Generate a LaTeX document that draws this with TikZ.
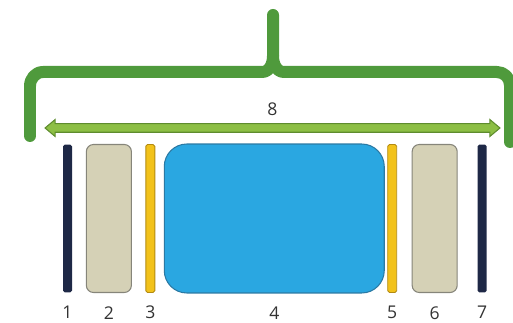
\documentclass[tikz,border=0pt]{standalone}
\usepackage{fontspec}
\setmainfont{Open Sans}
\usetikzlibrary{positioning}
\usetikzlibrary{shapes.arrows}

\definecolor{bracegreen}{HTML}{4F9A3C}
\definecolor{spanfill}{HTML}{8DBF45}
\definecolor{spanline}{HTML}{5E8C2E}
\definecolor{navy}{HTML}{1E2846}
\definecolor{sand}{HTML}{D5D1B6}
\definecolor{sandline}{HTML}{86857A}
\definecolor{amber}{HTML}{F2C21A}
\definecolor{amberline}{HTML}{B38B12}
\definecolor{pool}{HTML}{2AA7E1}
\definecolor{poolline}{HTML}{2B79A3}
\definecolor{digit}{HTML}{333333}

\begin{document}
\begin{tikzpicture}[
    x=0.02cm, y=-0.02cm,
    thin bar/.style={rectangle, rounded corners=1pt, inner sep=0pt, minimum width=0.18cm, minimum height=2.96cm},
    slab/.style={rectangle, draw=sandline, fill=sand, line width=0.6pt, rounded corners=0.14cm, inner sep=0pt, minimum width=0.9cm, minimum height=2.96cm},
    num/.style={inner sep=0pt, text=digit, font=\normalsize},
  ]
  \useasboundingbox (0,0) rectangle (513,323);

  % brace over the whole section
  \coordinate (BL) at (30,136);
  \coordinate (BR) at (510,142);
  \coordinate (BT) at (273,15);
  \draw [bracegreen, line width=0.24cm, line cap=round, line join=round]
    (BL) -- (30,86) to[out=90,in=180] (43,72) -- (262,72) to[out=0,in=-90] (273,56) -- (BT);
  \draw [bracegreen, line width=0.24cm, line cap=round, line join=round]
    (273,56) to[out=-90,in=180] (284,72) -- (497,72) to[out=0,in=90] (510,85) -- (BR);

  % total span
  \node [double arrow, draw=spanline, fill=spanfill, line width=0.6pt, inner sep=0.075cm, double arrow head extend=0.085cm, double arrow tip angle=80, minimum height=9.1cm] (span) at (272.5,128) {};
  \node [num, above=0.14cm of span] (n8) {8};

  % layers
  \node [thin bar, fill=navy] (b1) at (67.5,218.5) {};
  \node [slab, right=0.27cm of b1] (b2) {};
  \node [thin bar, draw=amberline, fill=amber, line width=0.5pt, right=0.27cm of b2] (b3) {};
  \node [rectangle, draw=poolline, fill=pool, line width=0.6pt, rounded corners=0.45cm, minimum width=4.4cm, minimum height=2.98cm, right=0.17cm of b3] (b4) {};
  \node [thin bar, draw=amberline, fill=amber, line width=0.5pt, right=0.05cm of b4] (b5) {};
  \node [slab, right=0.29cm of b5] (b6) {};
  \node [thin bar, fill=navy, right=0.39cm of b6] (b7) {};

  \node [num, below=0.26cm of b1] (n1) {1};
  \node [num, below=0.26cm of b2] (n2) {2};
  \node [num, below=0.26cm of b3] (n3) {3};
  \node [num, below=0.26cm of b4] (n4) {4};
  \node [num, below=0.26cm of b5] (n5) {5};
  \node [num, below=0.26cm of b6] (n6) {6};
  \node [num, below=0.26cm of b7] (n7) {7};

\end{tikzpicture}
\end{document}
